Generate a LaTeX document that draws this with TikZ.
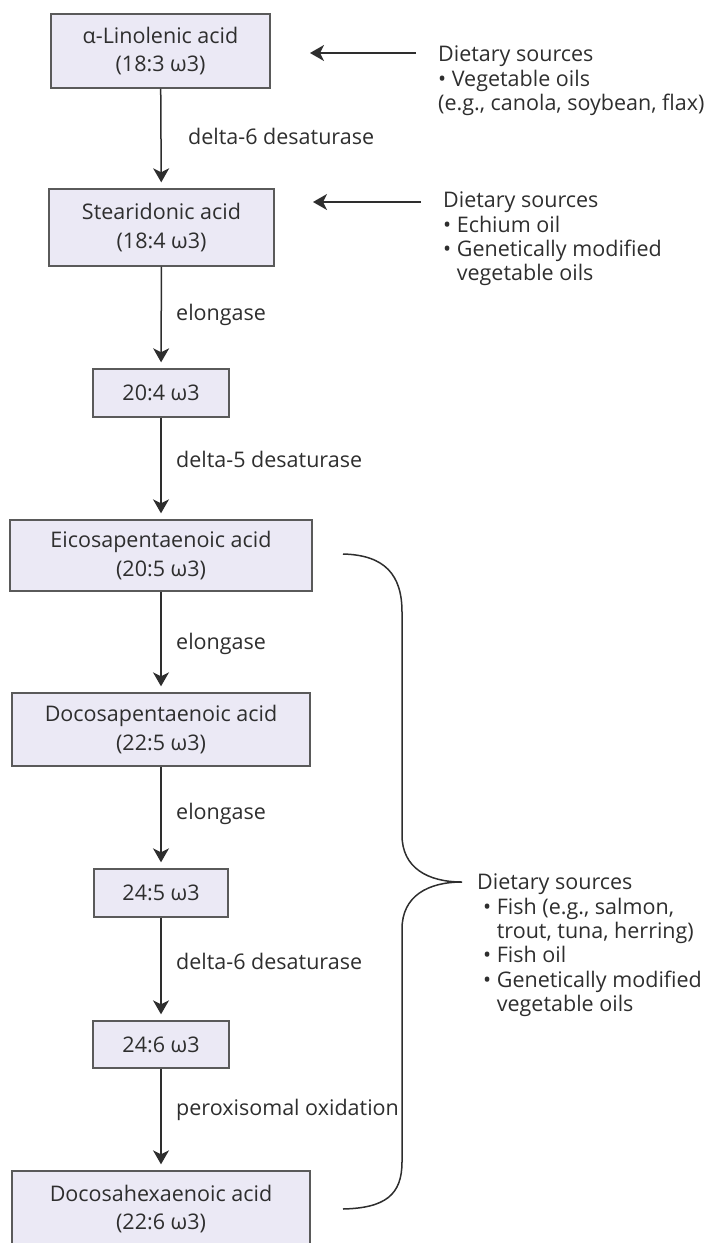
\documentclass[tikz,border=0pt]{standalone}
\usepackage{fontspec}
\setmainfont{Open Sans}
\usetikzlibrary{arrows.meta}
\definecolor{boxfill}{HTML}{EBE9F5}
\definecolor{boxline}{HTML}{5A5A5A}
\definecolor{ink}{HTML}{2E2E2E}
\tikzset{
  acid/.style={draw=boxline, line width=1.4pt, fill=boxfill, text=ink, align=center,
    font=\fontsize{21.5}{28.5}\selectfont, inner sep=0pt},
  enzyme/.style={anchor=west, text=ink, font=\fontsize{21.5}{24}\selectfont, inner sep=0pt},
  source/.style={anchor=north west, text=ink, align=left, font=\fontsize{21.5}{24.3}\selectfont, inner sep=0pt},
  conv/.style={draw=ink, line width=1.5pt, -{Stealth[length=14pt,width=16pt,inset=4pt]}, shorten >=6pt},
  feed/.style={draw=ink, line width=1.5pt, -{Stealth[length=14pt,width=16pt,inset=4pt]}}
}
\begin{document}
\begin{tikzpicture}[x=1pt, y=-1pt]
        \useasboundingbox (0,0) rectangle (728,1243);

        % Draw the acids
        \node[acid, minimum width=219pt, minimum height=74pt] (ala) at (160.5,51) {α-Linolenic acid\\(18:3 ω3)};
        \node[acid, minimum width=225pt, minimum height=77pt] (sda) at (161.5,227.5) {Stearidonic acid\\(18:4 ω3)};
        \node[acid, minimum width=136pt, minimum height=48pt] (eta) at (161,393) {20:4 ω3};
        \node[acid, minimum width=302pt, minimum height=71pt] (epa) at (161,555.5) {Eicosapentaenoic acid\\(20:5 ω3)};
        \node[acid, minimum width=298pt, minimum height=73pt] (dpa) at (161,729.5) {Docosapentaenoic acid\\(22:5 ω3)};
        \node[acid, minimum width=134pt, minimum height=48pt] (tpa) at (161,893) {24:5 ω3};
        \node[acid, minimum width=136pt, minimum height=47pt] (tha) at (161,1044.5) {24:6 ω3};
        \node[acid, minimum width=298pt, minimum height=76pt] (dha) at (161,1209) {Docosahexaenoic acid\\(22:6 ω3)};

        % Steps
        \draw[conv] (ala) -- (sda);
        \draw[conv] (sda) -- (eta);
        \draw[conv] (eta) -- (epa);
        \draw[conv] (epa) -- (dpa);
        \draw[conv] (dpa) -- (tpa);
        \draw[conv] (tpa) -- (tha);
        \draw[conv] (tha) -- (dha);

        % Enzyme labels
        \node[enzyme] (e1) at (188,136) {delta-6 desaturase};
        \node[enzyme] (e2) at (176,315) {elongase};
        \node[enzyme] (e3) at (176,459) {delta-5 desaturase};
        \node[enzyme] (e4) at (176,644) {elongase};
        \node[enzyme] (e5) at (176,814) {elongase};
        \node[enzyme] (e6) at (176,961) {delta-6 desaturase};
        \node[enzyme] (e7) at (176,1110) {peroxisomal oxidation};

        % Dietary sources
        \node[source] (src1) at (438,46) {Dietary sources\\• Vegetable oils\\(e.g., canola, soybean, flax)};
        \node[source] (src2) at (443,192) {Dietary sources\\• Echium oil\\• Genetically modified\\\phantom{• }vegetable oils};
        \node[source] (src3) at (477,874) {Dietary sources\\\hspace{6pt}• Fish (e.g., salmon,\\\hspace{6pt}\phantom{• }trout, tuna, herring)\\\hspace{6pt}• Fish oil\\\hspace{6pt}• Genetically modified\\\hspace{6pt}\phantom{• }vegetable oils};

        \coordinate (f1) at (310,53);
        \coordinate (f2) at (313,202);
        \draw[feed] ([xshift=-22pt]src1.north west |- f1) -- (f1);
        \draw[feed] ([xshift=-22pt]src2.north west |- f2) -- (f2);

        % The brace
        \draw[ink, line width=1.5pt] (343,554) .. controls (385,555) and (402,575) .. (402,612)
          -- (402,835) .. controls (402,868) and (428,882) .. (462,882)
          .. controls (428,882) and (402,896) .. (402,929)
          -- (402,1162) .. controls (402,1195) and (385,1208) .. (343,1209);

    \end{tikzpicture}
\end{document}
